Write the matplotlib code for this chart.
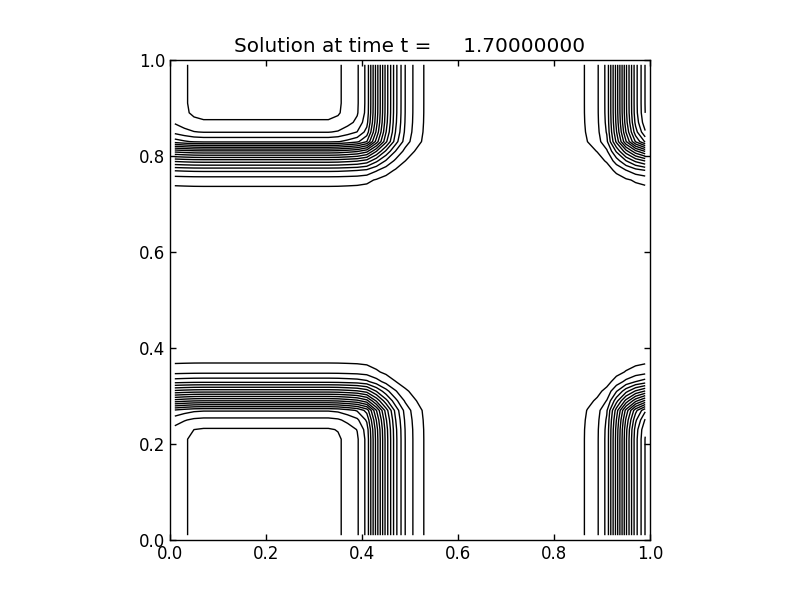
import numpy as np
import matplotlib.pyplot as plt

# time of the frame
t = 1.7

# cell centres of the 50x50 grid
ncells = 50
xc = np.linspace(0.01, 0.99, ncells)
yc = np.linspace(0.01, 0.99, ncells)

# solution profile along x (one value per cell)
qx = [0.925, 0.945, 0.960,
      0.965, 0.965, 0.965, 0.965, 0.965, 0.965, 0.965,
      0.965, 0.965, 0.965, 0.965, 0.965, 0.965, 0.965,
      0.9575, 0.935, 0.9075, 0.835, 0.63, 0.43, 0.265, 0.15,
      0.0875, 0.0475, 0.025, 0.0125, 0.006, 0.003,
      0.0015, 0.0015, 0.0015, 0.0015, 0.0015, 0.0015, 0.0015,
      0.002, 0.0035, 0.007, 0.015, 0.03, 0.06, 0.0925,
      0.165, 0.37, 0.59, 0.78, 0.9025]

# solution profile along y
qy = [0.965, 0.965, 0.965, 0.965, 0.965, 0.965, 0.965, 0.965, 0.965, 0.965, 0.965,
      0.955, 0.915, 0.845, 0.60, 0.38, 0.185, 0.0875, 0.0475, 0.025,
      0.0125, 0.006, 0.003,
      0.0015, 0.0015, 0.0015, 0.0015, 0.0015, 0.0015, 0.0015, 0.0015, 0.0015,
      0.003, 0.0075, 0.015, 0.0275, 0.04, 0.07, 0.16, 0.325,
      0.54, 0.81, 0.9025, 0.945, 0.9625,
      0.965, 0.965, 0.965, 0.965, 0.965]

q_max = 0.965
levels = np.linspace(0.05, 0.95, 19)

# separable solution q(x,y)
q = np.outer(qy, qx) / q_max

fig = plt.figure(figsize=(8, 6), dpi=100)
ax = fig.add_subplot(111)
plt.subplots_adjust(left=0.125, right=0.9, bottom=0.1, top=0.9)

ax.contour(xc, yc, q, levels, colors='k', linewidths=1.0)

ax.set_aspect('equal')
ax.set_xlim(0, 1)
ax.set_ylim(0, 1)
ax.set_xticks([0.0, 0.2, 0.4, 0.6, 0.8, 1.0])
ax.set_yticks([0.0, 0.2, 0.4, 0.6, 0.8, 1.0])
ax.tick_params(direction='in', top=True, right=True, labelsize=12, length=4, width=1)
for s in ax.spines.values():
    s.set_linewidth(1.0)
ax.set_title('Solution at time t = %14.8f' % t, fontsize=14.4)

fig.savefig('out.png')
